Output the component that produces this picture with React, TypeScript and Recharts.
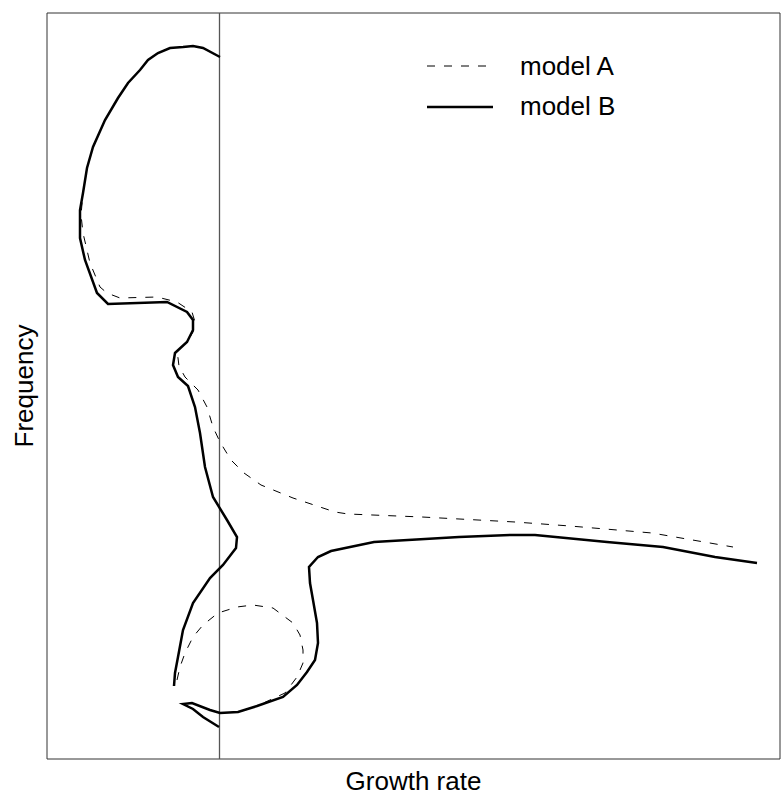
import React from "react";
import { LineChart, Line, XAxis, YAxis, ReferenceLine, ReferenceArea } from "recharts";

// readings in plot units: x = growth rate (0..733), y = frequency (0..746)
const modelAUpper: [number, number][] = [
  [173, 702], [156, 711], [146, 713], [136, 712], [123, 711], [111, 706], [101, 699],
  [93, 689], [81, 676], [71, 661], [58, 639], [46, 612], [40, 591],
  [36, 566], [34, 544], [36, 526], [43, 496], [53, 472], [60, 466], [73, 461],
  [110, 462], [130, 457], [145, 447], [148, 437], [146, 427], [140, 417], [130, 407],
  [131, 401], [132, 393], [138, 382], [151, 369], [160, 352], [166, 332], [173, 317],
  [184, 299], [197, 286], [214, 274], [246, 261], [288, 247], [301, 245], [375, 242],
  [468, 237], [523, 233], [605, 226], [686, 212],
];

const modelALower: [number, number][] = [
  [130, 79], [133, 92], [138, 106], [146, 122], [156, 134], [171, 146], [190, 152],
  [206, 154], [226, 151], [246, 136], [253, 124], [256, 109], [256, 96], [250, 82],
  [238, 66], [210, 53], [191, 47], [173, 46], [163, 49], [145, 56], [136, 55],
  [146, 50], [156, 42], [172, 32],
];

const modelBUpper: [number, number][] = [
  [173, 702], [156, 711], [146, 713], [136, 712], [123, 711], [111, 706], [101, 699],
  [93, 689], [81, 676], [71, 661], [58, 639], [46, 612], [40, 591],
  [36, 566], [33, 549], [33, 521], [38, 499], [50, 466], [61, 455], [120, 457],
  [140, 447], [146, 439], [146, 429], [140, 417], [128, 406], [126, 394], [131, 382],
  [141, 373], [148, 352], [153, 326], [158, 292], [166, 262], [180, 239], [190, 222],
  [189, 211], [176, 194], [163, 181], [146, 156], [136, 129], [131, 102], [128, 86],
  [127, 73],
];

const modelBLower: [number, number][] = [
  [172, 32], [156, 42], [146, 50], [136, 55], [145, 56], [163, 49], [173, 46],
  [191, 47], [210, 53], [236, 62], [250, 74], [260, 87], [268, 99], [271, 116],
  [270, 136], [266, 159], [263, 176], [262, 192], [271, 202], [284, 208], [327, 217],
  [412, 222], [464, 224], [488, 224], [560, 217], [616, 212], [668, 202], [710, 196],
];

const markerX = 172.5;
const seriesNames = ["model A", "model B"];

const toRows = (pieces: [number, number][][]) => {
  const rows: { x: number; y: number | null }[] = [];
  pieces.forEach((p, i) => {
    if (i > 0) rows.push({ x: p[0][0], y: null });
    p.forEach(([x, y]) => rows.push({ x, y }));
  });
  return rows;
};

const modelA = toRows([modelAUpper, modelALower]);
const modelB = toRows([modelBUpper, modelBLower]);

const font = "'Liberation Sans', Arial, Helvetica, sans-serif";

export default function App() {
  return (
    <div style={{ position: "absolute", left: 0, top: 0, background: "#fff" }}>
      <LineChart width={781} height={797} margin={{ top: 13, right: 1, left: 0, bottom: 0 }}>
        <XAxis
          dataKey="x"
          type="number"
          domain={[0, 733]}
          allowDataOverflow
          tick={false}
          tickLine={false}
          axisLine={false}
          height={38}
          label={{ value: "Growth rate", position: "insideBottom", offset: 7, fontSize: 26, fill: "#000", fontFamily: font }}
        />
        <YAxis
          type="number"
          domain={[0, 746]}
          allowDataOverflow
          tick={false}
          tickLine={false}
          axisLine={false}
          width={47}
          label={{ value: "Frequency", position: "center", angle: -90, fontSize: 26, fill: "#000", fontFamily: font }}
        />
        <ReferenceArea x1={0} x2={733} y1={0} y2={746} fill="none" stroke="#333" strokeWidth={1} ifOverflow="extendDomain" />
        <ReferenceLine x={markerX} stroke="#555" strokeWidth={1.3} />
        <Line
          data={modelA}
          dataKey="y"
          name={seriesNames[0]}
          type="linear"
          stroke="#000"
          strokeWidth={1}
          strokeDasharray="8 9"
          dot={false}
          activeDot={false}
          isAnimationActive={false}
        />
        <Line
          data={modelB}
          dataKey="y"
          name={seriesNames[1]}
          type="linear"
          stroke="#000"
          strokeWidth={2.5}
          dot={false}
          activeDot={false}
          isAnimationActive={false}
        />
        <g fontFamily={font} fontSize={26} fill="#000">
          <line x1={427} x2={493} y1={66} y2={66} stroke="#000" strokeWidth={1} strokeDasharray="8 9" />
          <text x={520} y={75}>{seriesNames[0]}</text>
          <line x1={427} x2={493} y1={107} y2={107} stroke="#000" strokeWidth={2.5} />
          <text x={520} y={115}>{seriesNames[1]}</text>
        </g>
      </LineChart>
    </div>
  );
}
